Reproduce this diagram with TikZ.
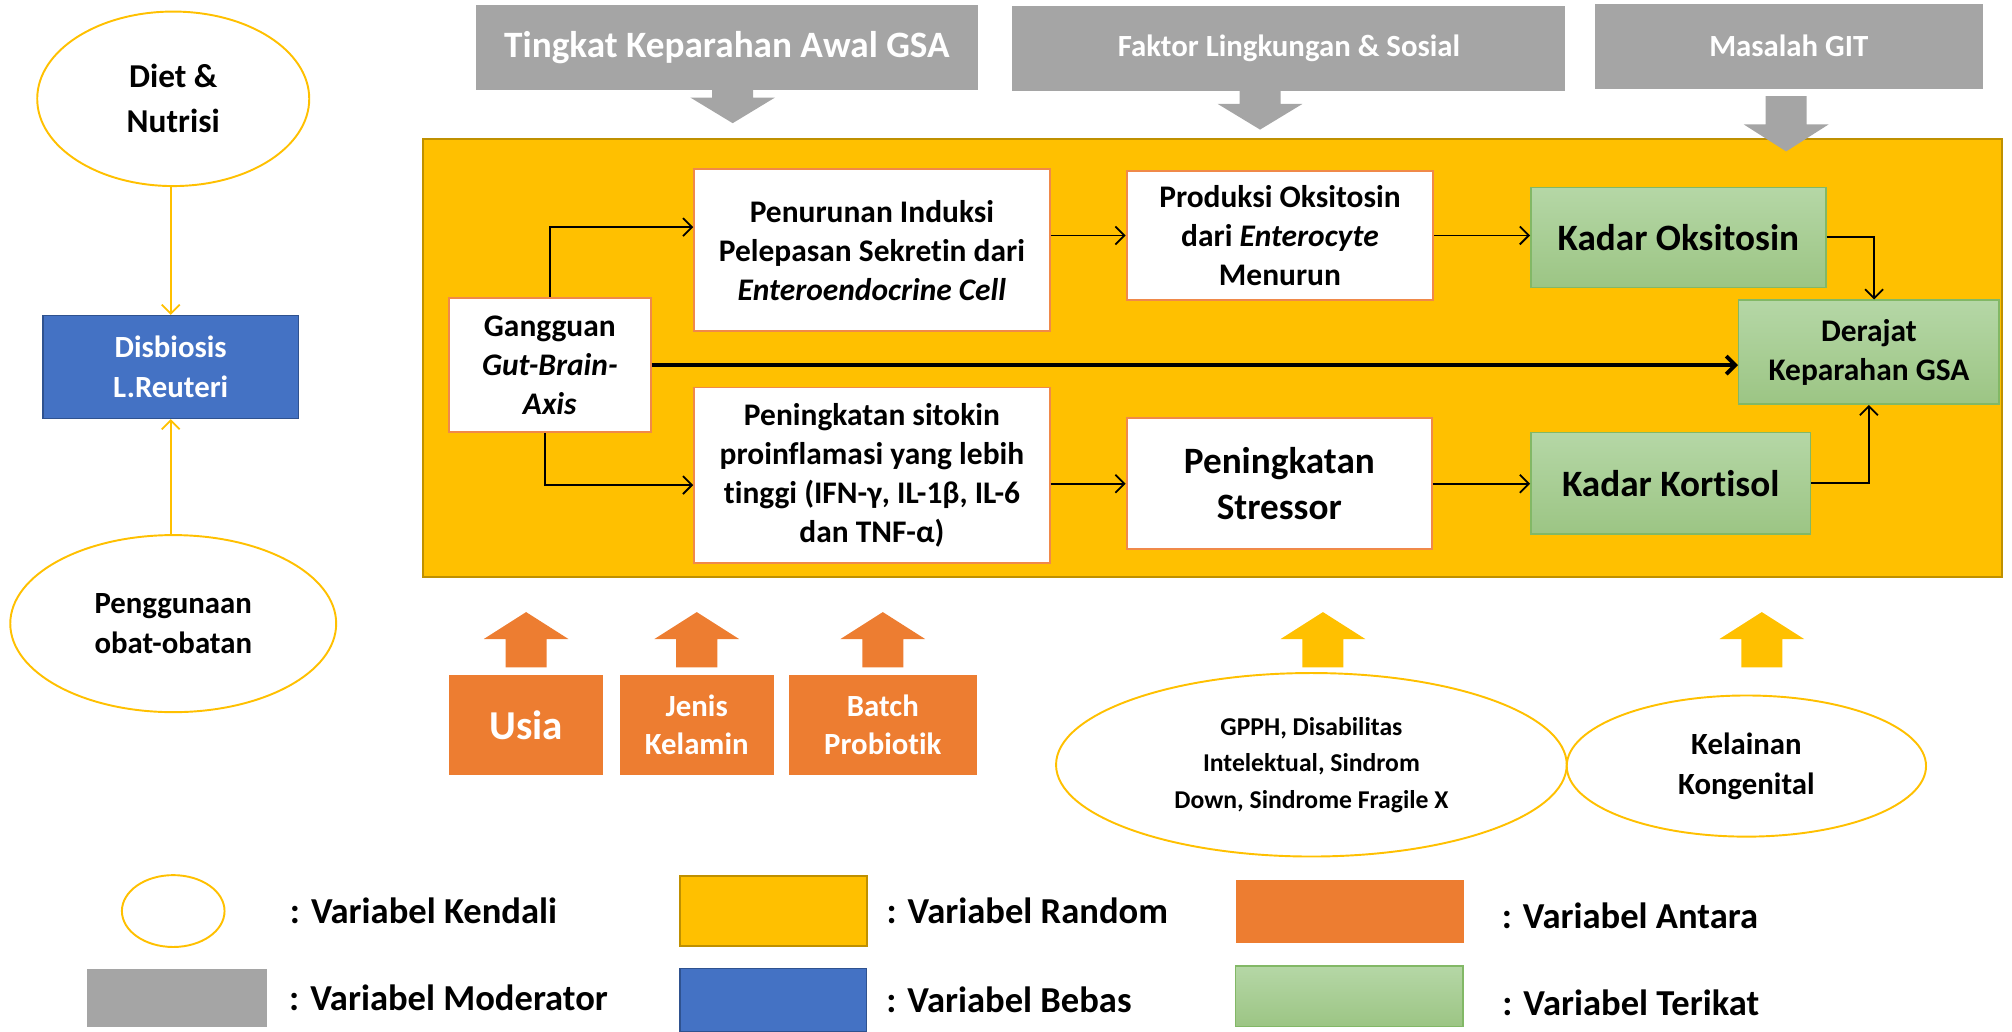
\documentclass[tikz,border=0pt]{standalone}
\usepackage{fontspec}
\setmainfont{Carlito}[Ligatures=NoCommon]
\usetikzlibrary{shapes.geometric, arrows.meta, positioning}
\definecolor{modGray}{HTML}{A5A5A5}
\definecolor{randYellow}{HTML}{FFC000}
\definecolor{randEdge}{HTML}{BF9000}
\definecolor{antOrange}{HTML}{ED7D31}
\definecolor{procEdge}{HTML}{F0894A}
\definecolor{bebasBlue}{HTML}{4472C4}
\definecolor{bebasEdge}{HTML}{2F528F}
\definecolor{terTop}{HTML}{B5D7A6}
\definecolor{terBot}{HTML}{9CC584}
\definecolor{terEdge}{HTML}{82B866}
\newcommand{\setfs}[2]{\fontsize{#1}{#2}\selectfont}
\tikzset{
  kendali/.style={ellipse, draw=randYellow, line width=1.5pt, fill=white, align=center,
                  inner sep=0pt},
  prosesbox/.style={rectangle, draw=procEdge, line width=1.5pt, fill=white, align=center,
                    font=\bfseries\setfs{24.5}{30.5}},
  terikatbox/.style={rectangle, draw=terEdge, line width=1.2pt, top color=terTop,
                     bottom color=terBot, align=center},
  moderatorbox/.style={rectangle, fill=modGray, text=white, align=center},
  antarabox/.style={rectangle, fill=antOrange, text=white, align=center,
                    minimum height=78pt, font=\bfseries\setfs{24}{30}},
  flow/.style={-{Straight Barb[length=7pt,width=14pt]}, line width=1.4pt},
}

\begin{document}
\begin{tikzpicture}[x=1pt, y=-1pt, font=\bfseries,
  legendtext/.style={anchor=west, inner sep=0pt, font=\bfseries\setfs{28.5}{34}}]
  \useasboundingbox (0,0) rectangle (1568,804);
  \node[kendali, minimum width=212pt, minimum height=136pt, font=\bfseries\setfs{26}{35}] (diet) at (135,77) {Diet \&\\Nutrisi};
  \node[rectangle, fill=bebasBlue, draw=bebasEdge, line width=1.2pt, text=white, align=center,
        minimum width=199pt, minimum height=80pt, font=\bfseries\setfs{24}{31}] (disb) at (133,286) {Disbiosis\\L.Reuteri};
  \node[kendali, minimum width=254pt, minimum height=138pt, font=\bfseries\setfs{24}{31}] (obat) at (135,486) {Penggunaan\\obat-obatan};
  \draw[flow, draw=randYellow] (disb.north |- diet.south) -- (disb.north);
  \draw[flow, draw=randYellow] (disb.south |- obat.north) -- (disb.south);

  \node[moderatorbox, minimum width=391pt, minimum height=66pt, font=\bfseries\setfs{29}{35}] (tingkat) at (566.5,37) {Tingkat Keparahan Awal GSA};
  \node[moderatorbox, minimum width=431pt, minimum height=66pt, font=\bfseries\setfs{24}{30}] (faktor) at (1004.5,38) {Faktor Lingkungan \& Sosial};
  \node[moderatorbox, minimum width=302pt, minimum height=66pt, font=\bfseries\setfs{24}{30}] (masalah) at (1394,36) {Masalah GIT};

  \node[rectangle, fill=randYellow, draw=randEdge, line width=1.5pt, minimum width=1230pt, minimum height=342pt] (random) at (945,279) {};
  \foreach \cx/\ya/\yb/\yc in {571/70/76/96, 982/70/81/101, 1392/75/97/118}
    \fill[modGray] (\cx-16,\ya) -- (\cx-16,\yb) -- (\cx-33,\yb) -- (\cx,\yc) -- (\cx+33,\yb) -- (\cx+16,\yb) -- (\cx+16,\ya) -- cycle;

  \node[prosesbox, minimum width=157pt, minimum height=105pt] (gba) at (428.5,284.5) {Gangguan\\\textit{Gut-Brain-}\\\textit{Axis}};
  \node[prosesbox, minimum width=277pt, minimum height=126pt] (sekretin) at (679.5,195) {Penurunan Induksi\\Pelepasan Sekretin dari\\\textit{Enteroendocrine Cell}};
  \node[prosesbox, minimum width=277pt, minimum height=137pt] (sitokin) at (679.5,370.5) {Peningkatan sitokin\\proinflamasi yang lebih\\tinggi (IFN-γ, IL-1β, IL-6\\dan TNF-α)};
  \node[prosesbox, minimum width=239pt, minimum height=101pt] (oksiprod) at (997.5,183.5) {Produksi Oksitosin\\dari \textit{Enterocyte}\\Menurun};
  \node[prosesbox, minimum width=238pt, minimum height=102pt, font=\bfseries\setfs{29}{36}] (stressor) at (997,377) {Peningkatan\\Stressor};
  \node[terikatbox, minimum width=230pt, minimum height=78pt, font=\bfseries\setfs{29}{36}] (oksitosin) at (1308,185) {Kadar Oksitosin};
  \node[terikatbox, minimum width=218pt, minimum height=79pt, font=\bfseries\setfs{29}{36}] (kortisol) at (1302,376.5) {Kadar Kortisol};
  \node[terikatbox, minimum width=203pt, minimum height=81pt, font=\bfseries\setfs{24.5}{30.5}] (derajat) at (1456.5,274.5) {Derajat\\Keparahan GSA};

  \draw[flow] (gba.north) |- ([yshift=18pt]sekretin.west);
  \draw[flow] ([xshift=-4pt]gba.south) |- ([yshift=-7.5pt]sitokin.west);
  \draw[flow, line width=3pt] (gba.east) -- (gba.east -| derajat.west);
  \draw[flow] (sekretin.east |- oksiprod.west) -- (oksiprod.west);
  \draw[flow] (sitokin.east |- stressor.west) -- (stressor.west);
  \draw[flow] (oksiprod.east) -- (oksiprod.east -| oksitosin.west);
  \draw[flow] (stressor.east) -- (stressor.east -| kortisol.west);
  \draw[flow] (oksitosin.east) -| ([xshift=4pt]derajat.north);
  \draw[flow] (kortisol.east) -| (derajat.south);

  \node[antarabox, minimum width=120pt, font=\bfseries\setfs{32}{36}] (usia) at (410,565) {Usia};
  \node[antarabox, minimum width=120pt] (jenis) at (543,565) {Jenis\\Kelamin};
  \node[antarabox, minimum width=146pt] (batch) at (688,565) {Batch\\Probiotik};
  \node[kendali, minimum width=398pt, minimum height=143pt, font=\bfseries\setfs{20}{28.5}] (gpph) at (1022,596) {GPPH, Disabilitas\\Intelektual, Sindrom\\Down, Sindrome Fragile X};
  \node[kendali, minimum width=280pt, minimum height=110pt, font=\bfseries\setfs{24}{31}] (kelainan) at (1361,597) {Kelainan\\Kongenital};
  \foreach \cx/\clr in {410/antOrange, 543/antOrange, 688/antOrange, 1031/randYellow, 1373/randYellow}
    \fill[\clr] (\cx-16,520) -- (\cx-16,498) -- (\cx-33,498) -- (\cx,477) -- (\cx+33,498) -- (\cx+16,498) -- (\cx+16,520) -- cycle;

  \node[kendali, minimum width=80pt, minimum height=56pt] (lgKendali) at (135,710) {};
  \node[legendtext, right=50pt of lgKendali] (txKendali) {: Variabel Kendali};
  \node[rectangle, fill=randYellow, draw=randEdge, line width=1.5pt, minimum width=146pt, minimum height=54pt] (lgRandom) at (603,710) {};
  \node[legendtext, right=14pt of lgRandom] (txRandom) {: Variabel Random};
  \node[rectangle, fill=antOrange, minimum width=178pt, minimum height=49pt] (lgAntara) at (1052,710.5) {};
  \node[legendtext, right=29pt of lgAntara, yshift=-3pt] (txAntara) {: Variabel Antara};
  \node[rectangle, fill=modGray, minimum width=140pt, minimum height=45pt] (lgModerator) at (138,777.5) {};
  \node[legendtext, right=17pt of lgModerator] (txModerator) {: Variabel Moderator};
  \node[rectangle, fill=bebasBlue, draw=bebasEdge, line width=1pt, minimum width=145pt, minimum height=49pt] (lgBebas) at (602.5,779.5) {};
  \node[legendtext, right=15pt of lgBebas] (txBebas) {: Variabel Bebas};
  \node[terikatbox, minimum width=177pt, minimum height=47pt] (lgTerikat) at (1051.5,776.5) {};
  \node[legendtext, right=30pt of lgTerikat, yshift=-5pt] (txTerikat) {: Variabel Terikat};
\end{tikzpicture}
\end{document}
